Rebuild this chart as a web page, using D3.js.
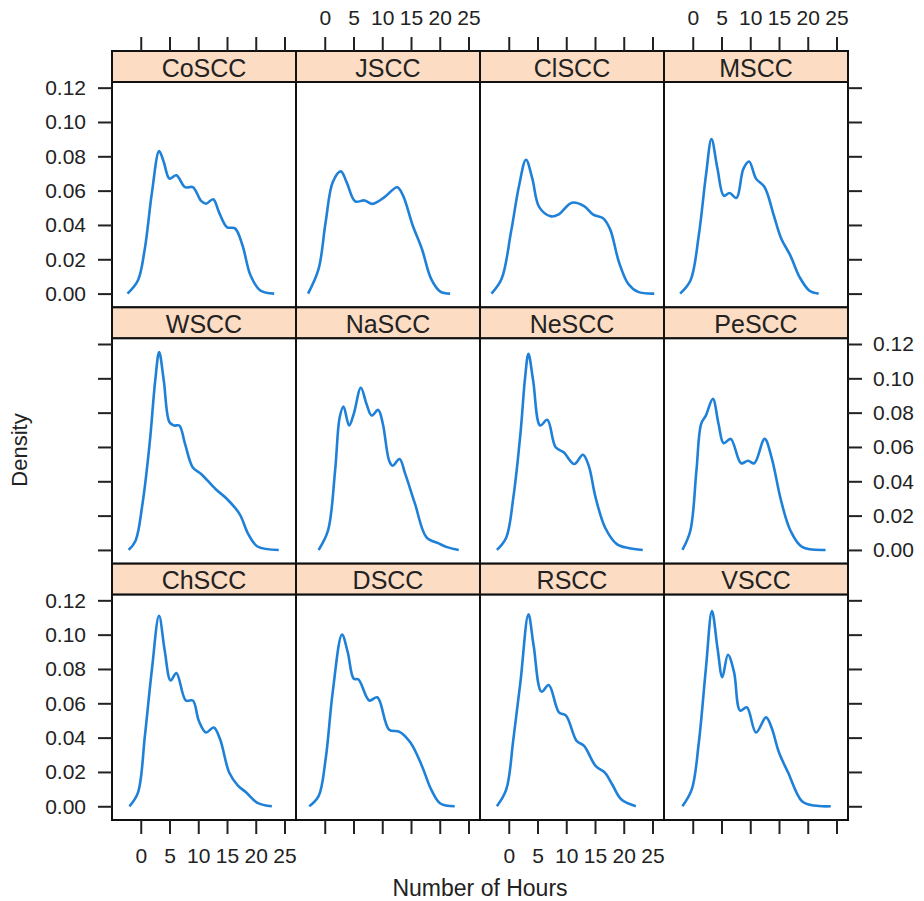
<!DOCTYPE html>
<html>
<head>
<meta charset="utf-8">
<title>Density of hours by SCC</title>
<script src="https://d3js.org/d3.v7.min.js"></script>
<style>
  body { margin: 0; background: #fff; }
  text { font-family: "Liberation Sans", Arial, sans-serif; fill: #222; }
</style>
</head>
<body>
<div id="chart"></div>
<script>
// panel names, in the order they are laid out (left to right, top to bottom)
const panelNames = ["CoSCC", "JSCC", "ClSCC", "MSCC",
                    "WSCC", "NaSCC", "NeSCC", "PeSCC",
                    "ChSCC", "DSCC", "RSCC", "VSCC"];

const xTicks = [0, 5, 10, 15, 20, 25];
const yTicks = [0, 0.02, 0.04, 0.06, 0.08, 0.10, 0.12];

// density curves: [hours, density]
const coscc = [[-2.3,0],[-0.5,0.0076],[0.7,0.026],[1.95,0.059],[3.2,0.083],[4.0,0.0767],[5.0,0.067],[6.2,0.0689],
  [7.7,0.062],[9.06,0.062],[10.5,0.054],[11.35,0.0524],[12.6,0.055],[13.6,0.0475],[15.0,0.0387],[16.4,0.038],
  [17.7,0.028],[19.1,0.0105],[20.8,0.0018],[23.2,0]];
const jscc = [[-2.9,0],[-1.07,0.0144],[0.15,0.0416],[1.4,0.065],[2.8,0.0712],[3.8,0.065],[5.3,0.0537],[6.9,0.0543],
  [8.3,0.0523],[10.4,0.0562],[12.6,0.062],[13.6,0.0572],[15.3,0.0397],[16.9,0.026],[18.5,0.0086],[20.1,0.0012],[21.8,0]];
const clscc = [[-3.0,0],[-1.24,0.0086],[0.4,0.036],[1.8,0.063],[3.0,0.078],[4.1,0.067],[5.3,0.0504],[7.35,0.045],
  [8.6,0.046],[11.0,0.053],[13.1,0.051],[14.7,0.046],[16.35,0.044],[17.6,0.0377],[19.2,0.018],[20.8,0.0056],
  [22.5,0.001],[25.3,0]];
const mscc = [[-2.2,0],[-0.4,0.0076],[1.05,0.034],[2.3,0.069],[3.26,0.090],[4.3,0.0727],[5.4,0.057],[6.4,0.0586],
  [7.6,0.0558],[8.8,0.0727],[9.8,0.077],[11.0,0.067],[12.5,0.062],[14.1,0.0455],[15.4,0.032],[17.0,0.022],
  [18.6,0.0095],[20.3,0.0017],[21.9,0]];
const wscc = [[-2.1,0],[-0.9,0.0054],[0.3,0.0268],[1.54,0.0618],[2.52,0.0988],[3.2,0.1153],[4.0,0.0988],[5.0,0.0744],
  [5.8,0.0725],[6.7,0.0725],[7.7,0.0618],[9.06,0.048],[10.5,0.0443],[13.0,0.0355],[15.0,0.0297],[17.2,0.0209],
  [18.7,0.0092],[20.3,0.002],[24.0,0]];
const nascc = [[-1.07,0],[0.56,0.0112],[1.8,0.0462],[2.6,0.0773],[3.26,0.0836],[4.24,0.0725],[5.05,0.0793],[6.28,0.0945],
  [7.26,0.0851],[8.16,0.0783],[9.3,0.0816],[10.1,0.0735],[11.2,0.052],[11.8,0.0491],[13.0,0.053],[14.0,0.0443],
  [15.7,0.0268],[17.7,0.0073],[19.8,0.0038],[21.4,0.0015],[23.3,0]];
const nescc = [[-2.06,0],[-0.43,0.0073],[0.8,0.0306],[2.03,0.0676],[2.85,0.1007],[3.42,0.1143],[4.24,0.0988],
  [5.47,0.0725],[6.7,0.0758],[8.16,0.0598],[9.55,0.0569],[11.4,0.0501],[12.9,0.0555],[13.9,0.0491],[15.1,0.0306],
  [16.75,0.0131],[18.8,0.0034],[20.8,0.0011],[23.3,0]];
const pescc = [[-1.8,0],[-0.42,0.0112],[0.64,0.0462],[1.46,0.0735],[2.28,0.0783],[3.5,0.088],[4.48,0.0735],[5.38,0.0622],
  [6.6,0.0647],[8.4,0.0505],[9.6,0.052],[10.7,0.0505],[12.5,0.0647],[13.7,0.054],[15.36,0.0287],[17.0,0.0112],
  [19.0,0.0018],[23.1,0]];
const chscc = [[-1.97,0],[-0.5,0.0078],[0.72,0.041],[1.95,0.080],[3.18,0.111],[4.16,0.0909],[5.2,0.0733],[6.2,0.0776],
  [7.84,0.0616],[9.06,0.0616],[10.1,0.0498],[11.35,0.043],[12.7,0.0459],[13.8,0.039],[15.4,0.0195],[16.9,0.0121],
  [18.3,0.0082],[20.3,0.002],[22.8,0]];
const dscc = [[-2.7,0],[-1.07,0.0059],[0.15,0.0274],[1.38,0.0664],[3.0,0.100],[3.99,0.0899],[5.05,0.0743],[5.87,0.0739],
  [7.75,0.0616],[9.14,0.0635],[11.2,0.0446],[13.0,0.0434],[14.9,0.0371],[16.9,0.0235],[18.5,0.0098],[20.1,0.0016],[22.6,0]];
const rscc = [[-2.06,0],[-0.43,0.0098],[0.8,0.039],[2.03,0.0723],[3.42,0.1118],[4.32,0.0938],[5.7,0.0668],[6.95,0.0707],
  [8.73,0.0547],[9.96,0.0528],[11.8,0.0381],[13.1,0.0352],[15.1,0.0235],[16.75,0.0195],[18.0,0.0127],[19.6,0.0039],[22.1,0]];
const vscc = [[-1.8,0],[-0.17,0.0098],[1.05,0.037],[2.28,0.080],[3.34,0.1137],[4.32,0.0918],[5.14,0.0752],[6.12,0.0883],
  [7.18,0.0782],[8.25,0.0557],[9.4,0.0577],[11.0,0.043],[12.74,0.0518],[13.7,0.0459],[15.0,0.0313],[16.6,0.0195],
  [19.0,0.0029],[21.1,0.0004],[24.0,0]];

const curves = [coscc, jscc, clscc, mscc, wscc, nascc, nescc, pescc, chscc, dscc, rscc, vscc];

// layout
const width = 924, height = 901;
const nCols = 4, nRows = 3;
const gridLeft = 112, gridRight = 848, gridTop = 51, gridBottom = 820;
const panelW = (gridRight - gridLeft) / nCols;
const rowH = (gridBottom - gridTop) / nRows;
const stripH = 31;
const plotH = rowH - stripH;
const tickLen = 14;

const svg = d3.select("#chart").append("svg")
    .attr("width", width)
    .attr("height", height)
    .style("background", "#fff");

const x = d3.scaleLinear().domain([-5, 27]).range([0, panelW]);
const y = d3.scaleLinear().domain([-0.008, 0.1233]).range([plotH, 0]);

const line = d3.line()
    .x(d => x(d[0]))
    .y(d => y(d[1]))
    .curve(d3.curveCatmullRom.alpha(0.5));

function styleAxis(g) {
    g.select(".domain").remove();
    g.selectAll(".tick line").attr("stroke", "#222").attr("stroke-width", 2);
    g.selectAll(".tick text").attr("font-size", 21).attr("fill", "#222")
        .attr("font-family", "'Liberation Sans', Arial, sans-serif");
}

panelNames.forEach(function(name, i) {
    var r = Math.floor(i / nCols), c = i % nCols;
    var g = svg.append("g")
        .attr("transform", "translate(" + (gridLeft + c * panelW) + "," + (gridTop + r * rowH) + ")");

    // strip
    g.append("rect")
        .attr("width", panelW).attr("height", stripH)
        .attr("fill", "#fcdcc2")
        .attr("stroke", "#111").attr("stroke-width", 2);
    g.append("text")
        .attr("x", panelW / 2).attr("y", stripH / 2 + 1)
        .attr("text-anchor", "middle")
        .attr("dominant-baseline", "central")
        .attr("font-size", 25)
        .text(name);

    var p = g.append("g").attr("transform", "translate(0," + stripH + ")");
    p.append("rect")
        .attr("width", panelW).attr("height", plotH)
        .attr("fill", "#fff")
        .attr("stroke", "#111").attr("stroke-width", 2);
    p.append("path")
        .datum(curves[i])
        .attr("d", line)
        .attr("fill", "none")
        .attr("stroke", "#1f80d8")
        .attr("stroke-width", 2.6)
        .attr("stroke-linejoin", "round");

    // axes on the outer sides, labels alternate like lattice
    if (r === 0) {
        g.append("g")
            .call(d3.axisTop(x).tickValues(xTicks).tickSize(tickLen).tickPadding(12)
                .tickFormat(c % 2 === 1 ? d3.format("d") : ""))
            .call(styleAxis);
    }
    if (r === nRows - 1) {
        p.append("g").attr("transform", "translate(0," + plotH + ")")
            .call(d3.axisBottom(x).tickValues(xTicks).tickSize(tickLen).tickPadding(14)
                .tickFormat(c % 2 === 0 ? d3.format("d") : ""))
            .call(styleAxis);
    }
    if (c === 0) {
        p.append("g")
            .call(d3.axisLeft(y).tickValues(yTicks).tickSize(tickLen).tickPadding(12)
                .tickFormat(r % 2 === 0 ? d3.format(".2f") : ""))
            .call(styleAxis);
    }
    if (c === nCols - 1) {
        p.append("g").attr("transform", "translate(" + panelW + ",0)")
            .call(d3.axisRight(y).tickValues(yTicks).tickSize(tickLen).tickPadding(11)
                .tickFormat(r % 2 === 1 ? d3.format(".2f") : ""))
            .call(styleAxis);
    }
});

// axis titles
svg.append("text")
    .attr("x", (gridLeft + gridRight) / 2).attr("y", 888)
    .attr("text-anchor", "middle")
    .attr("dominant-baseline", "central")
    .attr("font-size", 23)
    .text("Number of Hours");

svg.append("text")
    .attr("transform", "translate(19,450) rotate(-90)")
    .attr("text-anchor", "middle")
    .attr("dominant-baseline", "central")
    .attr("font-size", 22)
    .text("Density");
</script>
</body>
</html>
